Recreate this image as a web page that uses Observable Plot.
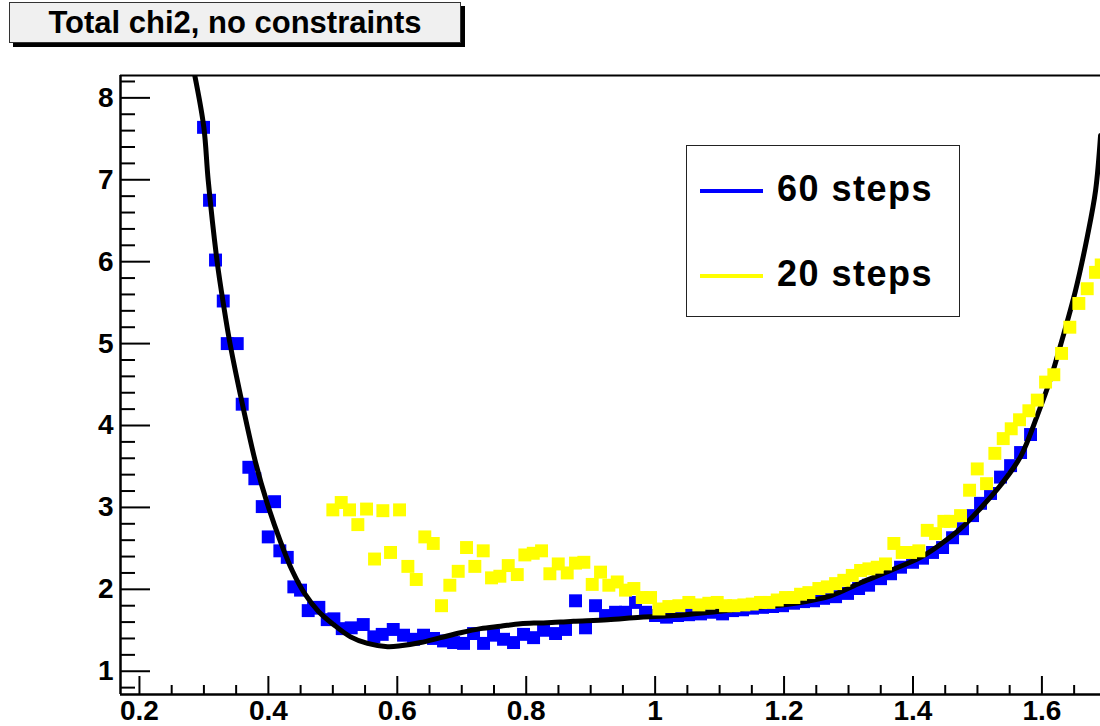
<!DOCTYPE html>
<html>
<head>
<meta charset="utf-8">
<script src="https://cdn.jsdelivr.net/npm/d3@7"></script>
<script src="https://cdn.jsdelivr.net/npm/@observablehq/plot@0.6"></script>
<style>
  html, body { margin: 0; padding: 0; background: #fff; overflow: hidden; }
  body { width: 1100px; height: 726px; position: relative; font-family: "Liberation Sans", Arial, Helvetica, sans-serif; }
  #chart { position: absolute; left: 0; top: 0; }
  #title-shadow { position: absolute; left: 13px; top: 6px; width: 452px; height: 41px; background: #000; }
  #title { position: absolute; left: 9px; top: 2px; width: 450px; height: 39px; background: #f0f0f0; border: 1px solid #333;
           font-weight: bold; font-size: 31px; line-height: 40px; text-align: center; color: #000; }
  #legend { position: absolute; left: 686px; top: 145px; width: 272px; height: 170px; border: 1.5px solid #222; background: #fff; }
  .swatch { position: absolute; left: 13px; width: 63px; height: 4px; }
  .lab { position: absolute; left: 90px; font-weight: bold; font-size: 36px; letter-spacing: 1.5px; color: #000; white-space: nowrap; }
</style>
</head>
<body>
<div id="chart"></div>
<div id="title-shadow"></div>
<div id="title">Total chi2, no constraints</div>
<div id="legend"></div>
<script>
// ---- data ----
const xTickMajor = [0.2, 0.4, 0.6, 0.8, 1.0, 1.2, 1.4, 1.6];
const xTickLabels = ["0.2", "0.4", "0.6", "0.8", "1", "1.2", "1.4", "1.6"];
const yTickMajor = [1, 2, 3, 4, 5, 6, 7, 8];
const yTickLabels = ["1", "2", "3", "4", "5", "6", "7", "8"];
const xDomain = [0.1706, 1.6909];
const yDomain = [0.716, 8.273];

const seriesNames = ["60 steps", "20 steps"];
const seriesColors = ["#0000ff", "#ffff00"];

// 60 steps (blue)
const blueX = [0.2994,0.3087,0.3180,0.3300,0.3362,0.3517,0.3594,0.3697,0.3790,0.3905,0.3998,0.4096,0.4178,0.4293,0.4395,0.4499,0.4618,0.4701,0.4783,0.4913,0.5016,0.5146,0.5285,0.5472,0.5636,0.5766,0.5937,0.6097,0.6252,0.6407,0.6562,0.6717,0.6873,0.7028,0.7183,0.7338,0.7493,0.7648,0.7803,0.7958,0.8114,0.8269,0.8455,0.8610,0.8765,0.8920,0.9075,0.9231,0.9386,0.9541,0.9696,0.9851,1.0006,1.0177,1.0347,1.0518,1.0704,1.0890,1.1046,1.1201,1.1356,1.1511,1.1666,1.1821,1.1976,1.2147,1.2302,1.2457,1.2613,1.2799,1.2985,1.3156,1.3311,1.3497,1.3652,1.3807,1.3993,1.4148,1.4303,1.4459,1.4614,1.4769,1.4924,1.5048,1.5203,1.5358,1.5514,1.5669,1.5824];
const blueY = [7.64,6.75,6.02,5.52,5.00,5.00,4.26,3.49,3.35,3.01,2.64,3.07,2.47,2.39,2.03,1.99,1.74,1.77,1.78,1.63,1.64,1.52,1.53,1.57,1.42,1.45,1.51,1.44,1.39,1.44,1.40,1.37,1.35,1.34,1.46,1.34,1.44,1.39,1.35,1.45,1.41,1.50,1.46,1.51,1.86,1.53,1.80,1.68,1.72,1.72,1.84,1.72,1.68,1.66,1.68,1.69,1.70,1.72,1.70,1.74,1.75,1.77,1.78,1.79,1.80,1.83,1.85,1.86,1.89,1.91,1.95,2.01,2.05,2.13,2.19,2.27,2.33,2.38,2.45,2.51,2.63,2.74,2.90,3.05,3.17,3.37,3.51,3.67,3.89];

// 20 steps (yellow)
const yellowX = [0.5000,0.5130,0.5259,0.5388,0.5523,0.5647,0.5776,0.5895,0.6035,0.6164,0.6294,0.6427,0.6558,0.6686,0.6815,0.6945,0.7074,0.7203,0.7333,0.7462,0.7591,0.7721,0.7861,0.7979,0.8109,0.8238,0.8367,0.8497,0.8636,0.8765,0.8894,0.9024,0.9153,0.9282,0.9412,0.9541,0.9670,0.9800,0.9929,1.0058,1.0213,1.0368,1.0523,1.0678,1.0833,1.0963,1.1092,1.1221,1.1376,1.1506,1.1635,1.1764,1.1894,1.2023,1.2152,1.2256,1.2385,1.2540,1.2670,1.2799,1.2927,1.3058,1.3187,1.3316,1.3445,1.3574,1.3703,1.3833,1.3962,1.4091,1.4221,1.4350,1.4479,1.4583,1.4738,1.4878,1.4997,1.5141,1.5270,1.5400,1.5524,1.5653,1.5798,1.5928,1.6057,1.6185,1.6305,1.6433,1.6573,1.6703,1.6832,1.6920];
const yellowY = [2.97,3.06,2.97,2.79,2.98,2.37,2.96,2.45,2.97,2.28,2.12,2.64,2.56,1.80,2.05,2.22,2.51,2.28,2.47,2.14,2.16,2.29,2.18,2.42,2.44,2.47,2.19,2.31,2.20,2.32,2.33,2.06,2.21,2.05,2.09,1.99,2.01,1.90,1.90,1.76,1.79,1.80,1.84,1.81,1.83,1.84,1.80,1.80,1.81,1.82,1.84,1.84,1.87,1.90,1.90,1.94,1.96,2.01,2.03,2.07,2.11,2.17,2.23,2.25,2.27,2.31,2.56,2.45,2.45,2.47,2.72,2.68,2.83,2.83,2.90,3.21,3.47,3.29,3.66,3.84,3.96,4.07,4.18,4.31,4.53,4.62,4.88,5.20,5.49,5.67,5.87,5.96];

// fitted curve (black)
const curveX = [0.2859,0.2999,0.3067,0.3207,0.3309,0.3405,0.3619,0.3801,0.3982,0.4189,0.4375,0.4561,0.4778,0.5011,0.5275,0.5538,0.5849,0.6050,0.6361,0.6671,0.6981,0.7292,0.7602,0.7912,0.8222,0.8533,0.8734,0.9262,0.9774,1.0285,1.0968,1.1588,1.2255,1.2721,1.3187,1.3652,1.4117,1.4428,1.4738,1.5048,1.5358,1.5669,1.5932,1.6134,1.6289,1.6522,1.6708,1.6833,1.6910];
const curveY = [8.27,7.64,6.99,5.99,5.45,5.00,4.18,3.55,3.05,2.58,2.22,1.95,1.73,1.57,1.42,1.34,1.30,1.31,1.35,1.41,1.47,1.52,1.55,1.58,1.59,1.60,1.61,1.63,1.66,1.68,1.73,1.78,1.84,1.92,2.08,2.23,2.39,2.55,2.74,2.99,3.27,3.62,4.13,4.57,4.98,5.65,6.32,6.87,7.54];

// minor ticks
const xTickMinor = d3.range(4, 34).map(i => i * 0.05).filter(v => v > xDomain[0] && v < xDomain[1] && !xTickMajor.some(m => Math.abs(m - v) < 1e-9));
const yTickMinor = d3.range(4, 42).map(i => i * 0.2).filter(v => v > yDomain[0] && v < yDomain[1] && !yTickMajor.some(m => Math.abs(m - v) < 1e-9));

// ---- tables ----
const blue = blueX.map((x, i) => ({x, y: blueY[i]}));
const yellow = yellowX.map((x, i) => ({x, y: yellowY[i]}));
const curve = curveX.map((x, i) => ({x, y: curveY[i]}));

const W = 1100, H = 726;
const mL = 120, mR = 0, mT = 75, mB = 32;
const plotW = W - mL - mR, plotH = H - mT - mB;
const font = '"Liberation Sans", Arial, Helvetica, sans-serif';

const chart = Plot.plot({
  width: W, height: H,
  marginLeft: mL, marginRight: mR, marginTop: mT, marginBottom: mB,
  style: {fontFamily: font, background: "#fff", color: "#000", overflow: "visible"},
  x: {domain: xDomain},
  y: {domain: yDomain},
  marks: [
    Plot.dot(blue, {x: "x", y: "y", symbol: "square", r: 7.3, fill: seriesColors[0], stroke: null, clip: true}),
    Plot.line(curve, {x: "x", y: "y", stroke: "#000", strokeWidth: 5, curve: "catmull-rom", clip: true}),
    Plot.dot(yellow, {x: "x", y: "y", symbol: "square", r: 7.3, fill: seriesColors[1], stroke: null, clip: true}),
    // frame (left, bottom, top)
    Plot.ruleX([xDomain[0]], {stroke: "#000", strokeWidth: 2.5}),
    Plot.ruleY([yDomain[0]], {stroke: "#000", strokeWidth: 2.5}),
    Plot.ruleY([yDomain[1]], {stroke: "#000", strokeWidth: 2}),
    // inward ticks
    Plot.tickX(xTickMajor, {x: d => d, stroke: "#000", strokeWidth: 2, insetTop: plotH - 18}),
    Plot.tickX(xTickMinor, {x: d => d, stroke: "#000", strokeWidth: 2, insetTop: plotH - 9}),
    Plot.tickY(yTickMajor, {y: d => d, stroke: "#000", strokeWidth: 2, insetRight: plotW - 30}),
    Plot.tickY(yTickMinor, {y: d => d, stroke: "#000", strokeWidth: 2, insetRight: plotW - 15}),
    // labels
    Plot.axisX({ticks: xTickMajor, tickSize: 0, tickPadding: 6, tickFormat: (d, i) => xTickLabels[i], fontSize: 28, fontWeight: "bold", label: null}),
    Plot.axisY({ticks: yTickMajor, tickSize: 0, tickPadding: 7, tickFormat: (d, i) => yTickLabels[i], fontSize: 28, fontWeight: "bold", label: null})
  ]
});
document.getElementById("chart").appendChild(chart);

// legend
const legend = document.getElementById("legend");
const swY = [43, 128];
const labTop = [22, 107];
seriesNames.forEach((name, i) => {
  const sw = document.createElement("div");
  sw.className = "swatch";
  sw.style.top = swY[i] + "px";
  sw.style.background = seriesColors[i];
  legend.appendChild(sw);
  const lab = document.createElement("div");
  lab.className = "lab";
  lab.style.top = labTop[i] + "px";
  lab.textContent = name;
  legend.appendChild(lab);
});
</script>
</body>
</html>
